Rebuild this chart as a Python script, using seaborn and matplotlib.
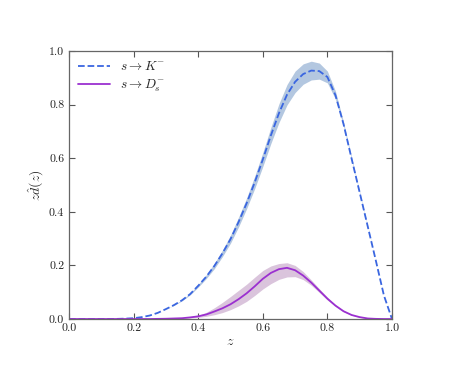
import numpy as np
import pandas as pd
import matplotlib
matplotlib.use('Agg')
import matplotlib.pyplot as plt
import seaborn as sns

z = [0.0, 0.05, 0.1, 0.15, 0.175, 0.2, 0.225, 0.25, 0.275, 0.3, 0.325, 0.35, 0.375,
     0.4, 0.425, 0.45, 0.475, 0.5, 0.525, 0.55, 0.575, 0.6, 0.625, 0.65, 0.675, 0.7,
     0.725, 0.75, 0.775, 0.8, 0.825, 0.85, 0.875, 0.9, 0.925, 0.95, 0.975, 1.0]

# s -> K-
kaon = [0, 0, 0, 0.0005, 0.0015, 0.003, 0.007, 0.013, 0.023, 0.037, 0.052, 0.07, 0.093,
        0.124, 0.158, 0.198, 0.245, 0.298, 0.362, 0.432, 0.51, 0.595, 0.685, 0.768,
        0.837, 0.885, 0.914, 0.927, 0.925, 0.903, 0.835, 0.727, 0.598, 0.472, 0.345,
        0.218, 0.088, 0.0]
kaon_err = [0, 0, 0, 0, 0, 0, 0, 0, 0, 0, 0.001, 0.002, 0.003, 0.005, 0.007, 0.01,
            0.012, 0.015, 0.018, 0.02, 0.023, 0.026, 0.03, 0.035, 0.038, 0.04, 0.038,
            0.035, 0.03, 0.022, 0.015, 0.008, 0.005, 0.003, 0.002, 0, 0, 0]

# s -> Ds-
dmeson = [0, 0, 0, 0, 0, 0, 0, 0, 0.0005, 0.001, 0.002, 0.003, 0.006, 0.01, 0.017,
          0.028, 0.04, 0.055, 0.074, 0.096, 0.122, 0.15, 0.172, 0.186, 0.191, 0.182,
          0.162, 0.136, 0.106, 0.076, 0.05, 0.029, 0.015, 0.007, 0.002, 0.0005, 0, 0]
dmeson_hi = [0, 0, 0, 0, 0, 0, 0, 0, 0.0005, 0.001, 0.002, 0.004, 0.008, 0.014, 0.025,
             0.042, 0.062, 0.084, 0.107, 0.13, 0.156, 0.181, 0.198, 0.207, 0.21, 0.2,
             0.177, 0.146, 0.113, 0.081, 0.053, 0.031, 0.016, 0.008, 0.002, 0.0005, 0, 0]
dmeson_lo = [0, 0, 0, 0, 0, 0, 0, 0, 0.0005, 0.001, 0.0015, 0.002, 0.004, 0.006, 0.01,
             0.016, 0.024, 0.035, 0.049, 0.066, 0.088, 0.112, 0.132, 0.148, 0.157, 0.158,
             0.147, 0.126, 0.099, 0.071, 0.047, 0.027, 0.014, 0.006, 0.002, 0.0005, 0, 0]

df = pd.DataFrame({'z': z, 'kaon': kaon, 'dmeson': dmeson})
kaon_hi = np.array(kaon) + np.array(kaon_err)
kaon_lo = np.array(kaon) - np.array(kaon_err)

sns.set_style('ticks')
plt.rcParams['font.family'] = ['cmr10', 'DejaVu Serif']
plt.rcParams['mathtext.fontset'] = 'cm'
plt.rcParams['axes.formatter.use_mathtext'] = True
plt.rcParams['axes.unicode_minus'] = False

fig = plt.figure(figsize=(4.61, 3.85), dpi=100)
ax = fig.add_axes([0.1497, 0.1714, 0.7006, 0.6961])

ax.fill_between(z, kaon_lo, kaon_hi, color='#b3c7e0', lw=0)
ax.fill_between(z, dmeson_lo, dmeson_hi, color='#dac4dc', lw=0)
sns.lineplot(data=df, x='z', y='kaon', ax=ax, color='#3a66e0', lw=1.3,
             linestyle='--', label=r'$s\rightarrow K^{-}$')
sns.lineplot(data=df, x='z', y='dmeson', ax=ax, color='#9b30d0', lw=1.3,
             label=r'$s\rightarrow D_s^{-}$')

ax.set_xlim(0, 1)
ax.set_ylim(0, 1)
ax.set_xticks([0, 0.2, 0.4, 0.6, 0.8, 1.0])
ax.set_yticks([0, 0.2, 0.4, 0.6, 0.8, 1.0])
ax.xaxis.set_major_formatter(matplotlib.ticker.FormatStrFormatter('%.1f'))
ax.yaxis.set_major_formatter(matplotlib.ticker.FormatStrFormatter('%.1f'))
ax.tick_params(direction='in', top=True, right=True, length=4, width=0.8,
               colors='#555555', labelcolor='#222222', labelsize=8.5)
for s in ax.spines.values():
    s.set_color('#666666')
    s.set_linewidth(0.9)

ax.set_xlabel(r'$z$', fontsize=10, labelpad=2)
ax.set_ylabel(r'$z\hat{d}(z)$', fontsize=10, labelpad=2)
ax.legend(loc='upper left', frameon=False, fontsize=9.5, handlelength=2.4,
          borderaxespad=0.3, labelspacing=0.35)

fig.savefig('out.png', dpi=100)
